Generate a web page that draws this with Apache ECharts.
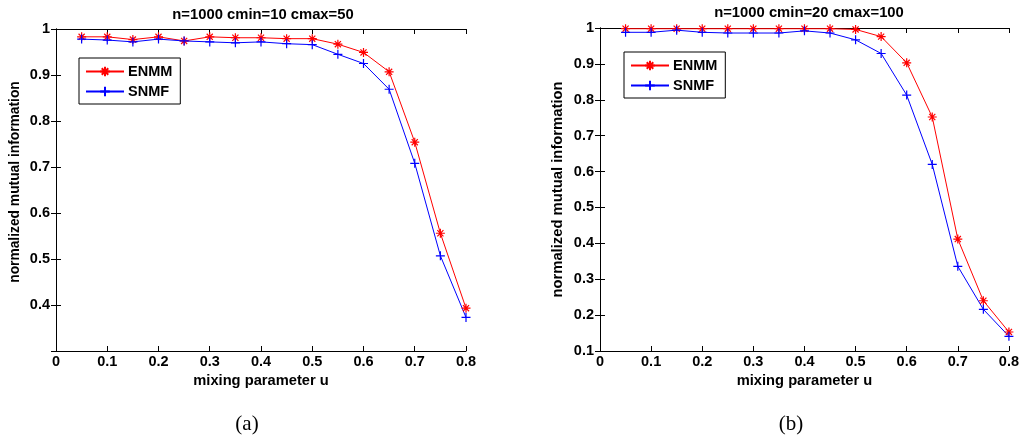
<!DOCTYPE html>
<html><head><meta charset="utf-8">
<script src="https://cdn.jsdelivr.net/npm/echarts@6/dist/echarts.min.js"></script>
<style>html,body{margin:0;padding:0;background:#fff}#c{width:1022px;height:446px}</style>
</head><body><div id="c"></div>
<script>
var xValues = [0.05,0.1,0.15,0.2,0.25,0.3,0.35,0.4,0.45,0.5,0.55,0.6,0.65,0.7,0.75,0.8];
var enmmA = [0.983,0.983,0.977,0.983,0.974,0.983,0.981,0.981,0.979,0.979,0.967,0.949,0.907,0.754,0.556,0.393];
var snmfA = [0.978,0.976,0.972,0.978,0.974,0.972,0.970,0.972,0.968,0.966,0.945,0.925,0.869,0.708,0.507,0.373];
var enmmB = [0.998,0.998,0.998,0.998,0.998,0.998,0.998,0.998,0.998,0.996,0.976,0.903,0.752,0.412,0.240,0.153];
var snmfB = [0.988,0.988,0.994,0.988,0.986,0.986,0.986,0.992,0.986,0.967,0.929,0.813,0.620,0.336,0.216,0.141];
var titles = ['n=1000 cmin=10 cmax=50','n=1000 cmin=20 cmax=100'];
var captions = ['(a)','(b)'];
var xName = 'mixing parameter u';
var yName = 'normalized mutual information';

function pairs(ys){ return xValues.map(function(x,i){return [x, ys[i]];}); }
var STAR = 'path://M5,0L5,10M0,5L10,5M1.6,1.6L8.4,8.4M8.4,1.6L1.6,8.4';
var PLUS = 'path://M5,0L5,10M0,5L10,5';
var font = 'Liberation Sans, Arial, sans-serif';

function xAxes(g,nameSize){
  return [{
    gridIndex:g, type:'value', min:0, max:0.8, interval:0.1,
    name:xName, nameLocation:'middle', nameGap:21,
    nameTextStyle:{color:'#000',fontSize:nameSize,fontWeight:'bold',fontFamily:font},
    axisLine:{lineStyle:{color:'#000',width:1}},
    axisTick:{inside:true,length:5,lineStyle:{color:'#000'}},
    axisLabel:{color:'#000',fontSize:14.5,fontWeight:'bold',fontFamily:font,margin:3},
    splitLine:{show:false}
  },{
    gridIndex:g, type:'value', min:0, max:0.8, interval:0.1, position:'top',
    axisLine:{lineStyle:{color:'#000',width:1}},
    axisTick:{inside:true,length:5,lineStyle:{color:'#000'}},
    axisLabel:{show:false}, splitLine:{show:false}
  }];
}
function yAxes(g,min,gap,showMin,nameSize,namePad){
  return [{
    gridIndex:g, type:'value', min:min, max:1, interval:0.1,
    name:yName, nameLocation:'middle', nameGap:gap,
    nameTextStyle:{color:'#000',fontSize:nameSize,fontWeight:'bold',fontFamily:font,padding:namePad},
    axisLine:{show:true,lineStyle:{color:'#000',width:1}},
    axisTick:{show:true,inside:true,length:5,lineStyle:{color:'#000'}},
    axisLabel:{color:'#000',fontSize:14.5,fontWeight:'bold',fontFamily:font,margin:6,showMinLabel:showMin},
    splitLine:{show:false}
  },{
    gridIndex:g, type:'value', min:min, max:1, interval:0.1, position:'right',
    axisLine:{show:true,lineStyle:{color:'#000',width:1}},
    axisTick:{show:true,inside:true,length:5,lineStyle:{color:'#000'}},
    axisLabel:{show:false}, splitLine:{show:false}
  }];
}
function ser(name,data,color,sym,xi,yi){
  return {name:name,type:'line',data:pairs(data),xAxisIndex:xi,yAxisIndex:yi,
    symbol:sym,symbolSize:9,showAllSymbol:true,
    lineStyle:{color:color,width:1},
    itemStyle:{color:color,borderColor:color,borderWidth:1.2},
    emphasis:{disabled:true},animation:false};
}
function legend(left,top){
  return {left:left,top:top,orient:'vertical',data:['ENMM','SNMF'],
    itemWidth:38,itemHeight:12,itemGap:5,
    borderColor:'#000',borderWidth:1,padding:[6,8,5,6],
    textStyle:{color:'#000',fontSize:14.5,fontWeight:'bold',fontFamily:font,padding:[0,0,0,-1]}};
}
var chart = echarts.init(document.getElementById('c'),null,{renderer:'canvas'});
chart.setOption({
  backgroundColor:'#fff',
  animation:false,
  title:[
    {text:titles[0],left:258,top:2,textAlign:'center',textStyle:{fontSize:14.8,fontWeight:'bold',fontFamily:font,color:'#000'}},
    {text:titles[1],left:804,top:0,textAlign:'center',textStyle:{fontSize:14.8,fontWeight:'bold',fontFamily:font,color:'#000'}},
    {text:captions[0],left:242,top:409,textAlign:'center',textStyle:{fontSize:21,fontWeight:'normal',fontFamily:'Liberation Serif, Times New Roman, serif',color:'#000'}},
    {text:captions[1],left:786,top:409,textAlign:'center',textStyle:{fontSize:21,fontWeight:'normal',fontFamily:'Liberation Serif, Times New Roman, serif',color:'#000'}}
  ],
  legend:[legend(79,58),legend(624,52)],
  grid:[
    {left:56,top:29,width:410,height:322},
    {left:600,top:28,width:409,height:323}
  ],
  xAxis:xAxes(0,14.7).concat(xAxes(1,14.7)),
  yAxis:yAxes(0,0.3,34,false,13.8,[0,0,0,16]).concat(yAxes(1,0.1,35,true,14.8,[0,0,0,0])),
  series:[
    ser('ENMM',enmmA,'#ff0000',STAR,0,0),
    ser('SNMF',snmfA,'#0000ff',PLUS,0,0),
    ser('ENMM',enmmB,'#ff0000',STAR,2,2),
    ser('SNMF',snmfB,'#0000ff',PLUS,2,2)
  ]
});
</script></body></html>
